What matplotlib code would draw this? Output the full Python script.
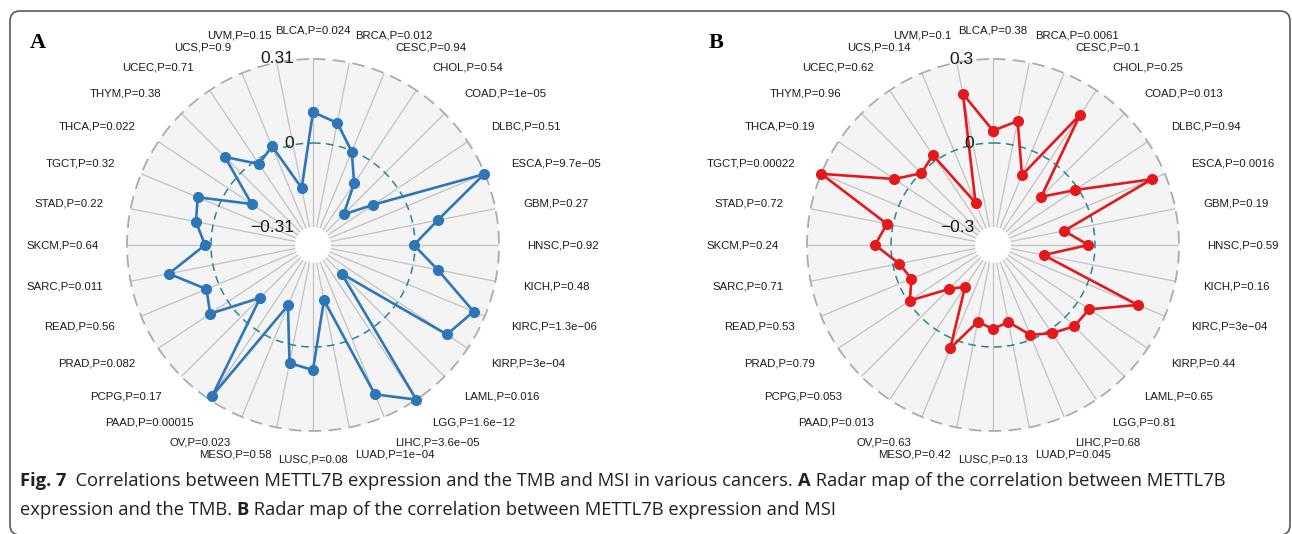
import numpy as np
import matplotlib
matplotlib.use("Agg")
import matplotlib.pyplot as plt
from matplotlib.patches import FancyBboxPatch
from matplotlib.transforms import ScaledTranslation

# cancer types, clockwise from the top
cancers = ["BLCA", "BRCA", "CESC", "CHOL", "COAD", "DLBC", "ESCA", "GBM",
           "HNSC", "KICH", "KIRC", "KIRP", "LAML", "LGG", "LIHC", "LUAD",
           "LUSC", "MESO", "OV", "PAAD", "PCPG", "PRAD", "READ", "SARC",
           "SKCM", "STAD", "TGCT", "THCA", "THYM", "UCEC", "UCS", "UVM"]

# panel A: correlation with TMB
tmb_r = [0.114, 0.083, -0.003, -0.103, -0.217, -0.109, 0.307, 0.093,
         -0.004, 0.093, 0.265, 0.218, -0.227, 0.31, 0.22, -0.169,
         0.085, 0.068, -0.135, 0.293, -0.101, 0.080, 0.049, 0.166,
         0.022, 0.064, 0.084, -0.104, 0.083, -0.017, 0.018, -0.162]
tmb_p = ["0.024", "0.012", "0.94", "0.54", "1e−05", "0.51", "9.7e−05", "0.27",
         "0.92", "0.48", "1.3e−06", "3e−04", "0.016", "1.6e−12", "3.6e−05", "1e−04",
         "0.08", "0.58", "0.023", "0.00015", "0.17", "0.082", "0.56", "0.011",
         "0.64", "0.22", "0.32", "0.022", "0.38", "0.71", "0.9", "0.15"]

# panel B: correlation with MSI
msi_r = [0.044, 0.087, -0.094, 0.196, -0.121, -0.011, 0.250, -0.105,
         -0.024, -0.18, 0.195, 0.049, 0.046, 0.015, -0.017, -0.084,
         -0.064, -0.085, 0.035, -0.185, -0.142, -0.007, -0.049, -0.023,
         0.057, 0.022, 0.30, 0.06, -0.002, 0.022, -0.201, 0.186]
msi_p = ["0.38", "0.0061", "0.1", "0.25", "0.013", "0.94", "0.0016", "0.19",
         "0.59", "0.16", "3e−04", "0.44", "0.65", "0.81", "0.68", "0.045",
         "0.13", "0.42", "0.63", "0.013", "0.053", "0.79", "0.53", "0.71",
         "0.24", "0.72", "0.00022", "0.19", "0.96", "0.62", "0.14", "0.1"]

W, H = 1292, 534
fig = plt.figure(figsize=(W / 100, H / 100), dpi=100)
fig.patch.set_facecolor("white")

R = 186      # outer radius, px
HOLE = 18    # inner white hole, px
CY = 245


def radar(cx, values, pvals, lim, ticks, color):
    ax = fig.add_axes([(cx - R) / W, (H - CY - R) / H, 2 * R / W, 2 * R / H],
                      projection="polar")
    frac = HOLE / R
    r0 = -lim * (1 + frac) / (1 - frac)
    ax.set_theta_zero_location("N")
    ax.set_theta_direction(-1)
    ax.set_ylim(-lim, lim)
    ax.set_rorigin(r0)
    ax.set_facecolor("#f4f4f4")
    ax.patch.set_edgecolor("none")
    ax.patch.set_linewidth(0)
    ax.grid(False)
    ax.set_xticks([])
    ax.set_yticks([])
    for s in ax.spines.values():
        s.set_visible(False)
        s.set_linewidth(0)

    n = len(values)
    ang = np.arange(n) * 2 * np.pi / n
    for a in ang:
        ax.plot([a, a], [-lim, lim], color="#c2c2c2", lw=0.9, zorder=1)

    t = np.linspace(0, 2 * np.pi, 400)
    ax.plot(t, np.full_like(t, lim), color="#acacac", lw=1.3,
            dashes=(7, 4), zorder=2, clip_on=False)
    ax.plot(t, np.zeros_like(t), color="#27868c", lw=1.1,
            dashes=(5, 3.5), zorder=2)

    v = np.append(values, values[0])
    a2 = np.append(ang, ang[0])
    ax.plot(a2, v, color=color, lw=1.9, marker="o", markersize=7,
            zorder=4, clip_on=False)

    # category labels
    r_lab = r0 + 214 / R * (lim - r0)
    for a, c, p in zip(ang, cancers, pvals):
        d = np.degrees(a)
        if abs(d) < 1 or abs(d - 180) < 1:
            ha = "center"
        elif d < 180:
            ha = "left"
        else:
            ha = "right"
        ax.text(a, r_lab, f"{c},P={p}", ha=ha, va="center", fontsize=8.2,
                family="Liberation Sans", color="#1a1a1a")

    # radial value labels
    off = ax.transData + ScaledTranslation(-19 / 100, 0, fig.dpi_scale_trans)
    for val, s in zip([lim, 0, -lim], ticks):
        ax.text(0, val, s, transform=off, ha="right", va="center",
                fontsize=12.5, family="Liberation Sans", color="#1a1a1a",
                zorder=6)
    return ax


radar(313, tmb_r, tmb_p, 0.31, ["0.31", "0", "−0.31"], "#2e76b7")
radar(993, msi_r, msi_p, 0.30, ["0.3", "0", "−0.3"], "#e3191c")

fig.text(30 / W, 1 - 48 / H, "A", fontsize=16, fontweight="bold",
         family="Liberation Serif", va="baseline")
fig.text(709 / W, 1 - 48 / H, "B", fontsize=16, fontweight="bold",
         family="Liberation Serif", va="baseline")

# outer rounded frame (bottom edge falls just outside the image)
box = FancyBboxPatch((10 / 100, -1 / 100), 1280 / 100, 524 / 100,
                     boxstyle="round,pad=0,rounding_size=0.1",
                     transform=fig.dpi_scale_trans, fill=False,
                     edgecolor="#5a5a5a", lw=1.2)
fig.add_artist(box)

# caption
cap_font = "Open Sans"
line1 = [("Fig. 7", "bold"),
         ("  Correlations between METTL7B expression and the TMB and MSI in various cancers. ", "normal"),
         ("A", "bold"),
         (" Radar map of the correlation between METTL7B", "normal")]
line2 = [("expression and the TMB. ", "normal"),
         ("B", "bold"),
         (" Radar map of the correlation between METTL7B expression and MSI", "normal")]

renderer = fig.canvas.get_renderer()


def rich(parts, x, y, size, draw=True):
    arts = []
    for txt, wt in parts:
        tt = fig.text(x / W, 1 - y / H, txt, fontsize=size, fontweight=wt,
                      family=cap_font, va="center", ha="left", color="#231f20")
        bb = tt.get_window_extent(renderer)
        x += bb.width
        arts.append(tt)
    if not draw:
        for tt in arts:
            tt.remove()
    return x


size = 12.0
end = rich(line1, 20, 481, size, draw=False)
size = size * (1222 - 20) / (end - 20)
rich(line1, 20, 481, size)
rich(line2, 20, 510, size)

fig.savefig("out.png", dpi=100)
